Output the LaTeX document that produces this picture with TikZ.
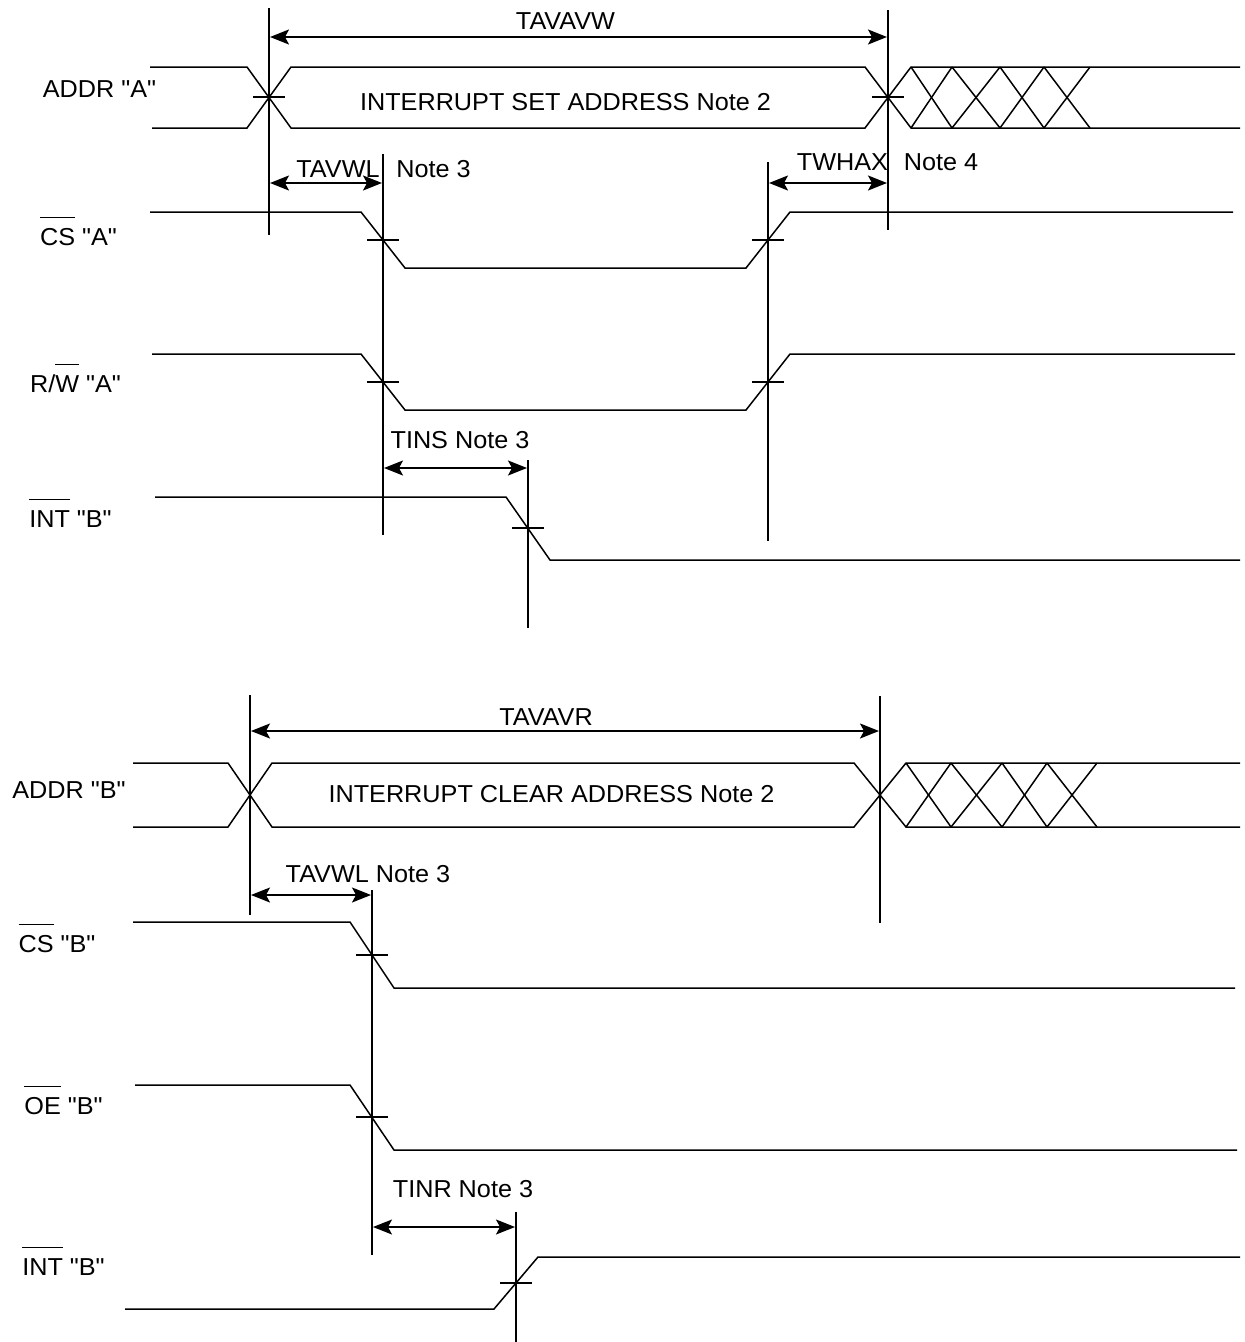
\documentclass[tikz,border=0pt]{standalone}
\usepackage{fontspec}
\setmainfont{Liberation Sans}[FakeStretch=1.03, Ligatures=TeXOff]
\usetikzlibrary{arrows.meta}
\newcommand{\obar}[1]{\setbox0\hbox{#1}\rlap{\raisebox{1.1em}{\rule{\wd0}{1.2pt}}}\box0\relax}
\newcommand{\qq}{\char34\relax}
\begin{document}
\begin{tikzpicture}[x=1pt,y=-1pt,
  wave/.style={line width=1.5pt, line join=miter},
  marker/.style={line width=1.5pt},
  tickmark/.style={line width=1.2pt},
  dim/.style={line width=1.5pt, {Stealth[length=19pt,width=15pt,inset=4pt]}-{Stealth[length=19pt,width=15pt,inset=4pt]}, shorten <=1pt, shorten >=1pt},
  lbl/.style={anchor=base, inner sep=0pt, font=\fontsize{24.5}{29}\selectfont}]
\useasboundingbox[fill=white] (0,0) rectangle (1245,1342);

% ---------------- top section ----------------
\coordinate (v1t) at (269,8);   \coordinate (v1b) at (269,235);
\coordinate (v2t) at (888,10);  \coordinate (v2b) at (888,230);
\coordinate (v3t) at (383,154); \coordinate (v3b) at (383,535);
\coordinate (v4t) at (768,162); \coordinate (v4b) at (768,541);
\coordinate (v5t) at (528,460); \coordinate (v5b) at (528,628);
\foreach \a/\b in {v1t/v1b, v2t/v2b, v3t/v3b, v4t/v4b, v5t/v5b}
  \draw[marker] (\a) -- (\b);

\coordinate (d1a) at (269,37);  \coordinate (d1b) at (888,37);
\coordinate (d2a) at (269,183); \coordinate (d2b) at (383,183);
\coordinate (d3a) at (768,183); \coordinate (d3b) at (888,183);
\coordinate (d4a) at (383,468); \coordinate (d4b) at (528,468);
\draw[dim] (d1a) -- (d1b);
\draw[dim] (d2a) -- (d2b);
\draw[dim] (d3a) -- (d3b);
\draw[dim] (d4a) -- (d4b);

% ADDR "A"
\draw[wave] (150,67) -- (247,67) -- (291,128) -- (865,128) -- (911,67) -- (1240,67);
\draw[wave] (152,128) -- (247,128) -- (291,67) -- (865,67) -- (911,128) -- (1240,128);
\foreach \a/\b in {911/952, 952/1000, 1000/1044, 1044/1090}{
  \draw[wave] (\a,67) -- (\b,128);
  \draw[wave] (\a,128) -- (\b,67);
}
% CS "A"
\draw[wave] (150,212) -- (361,212) -- (405,268) -- (746,268) -- (790,212) -- (1233,212);
% R/W "A"
\draw[wave] (152,354) -- (361,354) -- (405,410) -- (746,410) -- (790,354) -- (1235,354);
% INT "B"
\draw[wave] (155,497) -- (506,497) -- (550,560) -- (1240,560);

% ---------------- bottom section ----------------
\coordinate (v6t) at (250,695);  \coordinate (v6b) at (250,915);
\coordinate (v7t) at (880,696);  \coordinate (v7b) at (880,923);
\coordinate (v8t) at (372,890);  \coordinate (v8b) at (372,1255);
\coordinate (v9t) at (516,1212); \coordinate (v9b) at (516,1342);
\foreach \a/\b in {v6t/v6b, v7t/v7b, v8t/v8b, v9t/v9b}
  \draw[marker] (\a) -- (\b);

\coordinate (d5a) at (250,731);  \coordinate (d5b) at (880,731);
\coordinate (d6a) at (250,895);  \coordinate (d6b) at (372,895);
\coordinate (d7a) at (372,1227); \coordinate (d7b) at (516,1227);
\draw[dim] (d5a) -- (d5b);
\draw[dim] (d6a) -- (d6b);
\draw[dim] (d7a) -- (d7b);

% ADDR "B"
\draw[wave] (133,763) -- (228,763) -- (272,827) -- (854,827) -- (906,763) -- (1240,763);
\draw[wave] (133,827) -- (228,827) -- (272,763) -- (854,763) -- (906,827) -- (1240,827);
\foreach \a/\b in {906/951, 951/1002, 1002/1047, 1047/1097}{
  \draw[wave] (\a,763) -- (\b,827);
  \draw[wave] (\a,827) -- (\b,763);
}
% CS "B"
\draw[wave] (133,922) -- (350,922) -- (394,988) -- (1235,988);
% OE "B"
\draw[wave] (135,1085) -- (350,1085) -- (394,1150) -- (1237,1150);
% INT "B"
\draw[wave] (125,1309) -- (494,1309) -- (538,1257) -- (1240,1257);

% crossing ticks
\foreach \x/\y in {269/97, 888/97, 383/240, 768/240, 383/382, 768/382, 528/528, 372/955, 372/1117, 516/1283}
  \draw[tickmark] (\x-16,\y) -- (\x+16,\y);

% ---------------- labels ----------------
\node[lbl] (sA)  at (99.5,97)   {ADDR \qq A\qq};
\node[lbl] (sB)  at (78.5,245)  {\obar{CS} \qq A\qq};
\node[lbl] (sC)  at (75.5,392)  {R/\obar{W} \qq A\qq};
\node[lbl] (sD)  at (70.5,527)  {\obar{INT} \qq B\qq};
\node[lbl] (sE)  at (69,798)    {ADDR \qq B\qq};
\node[lbl] (sF)  at (57,952)    {\obar{CS} \qq B\qq};
\node[lbl] (sG)  at (63.5,1114) {\obar{OE} \qq B\qq};
\node[lbl] (sH)  at (63.5,1275) {\obar{INT} \qq B\qq};

\node[lbl] (t1)  at (565.5,29)  {TAVAVW};
\node[lbl] (t2)  at (565.5,110) {INTERRUPT SET ADDRESS Note 2};
\node[lbl] (t3)  at (338,177)   {TAVWL};
\node[lbl] (t3n) at (433.5,177) {Note 3};
\node[lbl] (t4)  at (842.5,170) {TWHAX};
\node[lbl] (t4n) at (941,170)   {Note 4};
\node[lbl] (t5)  at (460,448)   {TINS Note 3};
\node[lbl] (t6)  at (546,725)   {TAVAVR};
\node[lbl] (t7)  at (551.5,802) {INTERRUPT CLEAR ADDRESS Note 2};
\node[lbl] (t8)  at (368,882)   {TAVWL Note 3};
\node[lbl] (t9)  at (463,1197)  {TINR Note 3};
\end{tikzpicture}
\end{document}
